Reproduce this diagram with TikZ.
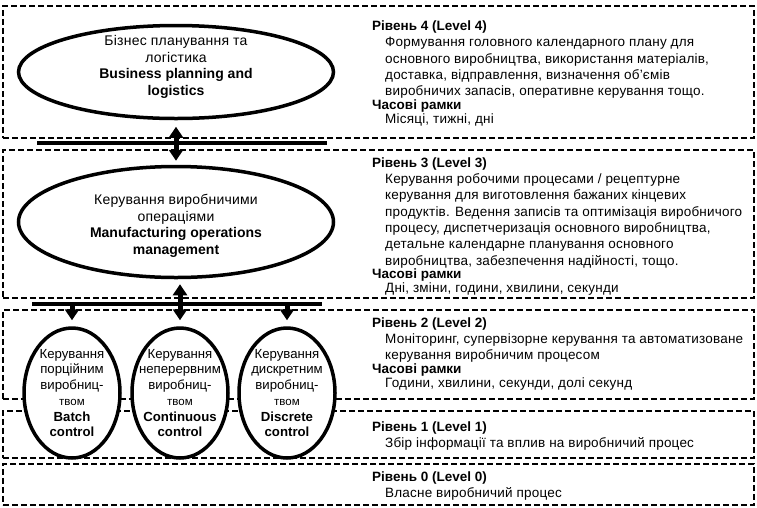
\documentclass[tikz,border=0pt]{standalone}
\usepackage{fontspec}
\setmainfont{Liberation Sans}
\newfontfamily\widefont{Liberation Sans}[LetterSpace=1.5]
\usetikzlibrary{
    shapes.geometric,
    arrows.meta,
    positioning,
    calc,
}
\newcommand{\indt}{\hspace*{13pt}}
\newcommand{\hd}[1]{{\normalfont\bfseries #1}}
\newcommand{\sm}[1]{{\fontsize{11.5}{15.7}\selectfont #1}}

\begin{document}
\begin{tikzpicture}[
    x=1pt, y=-1pt,
    level/.style={draw, line width=1.6pt, dash pattern=on 6pt off 3pt,
                anchor=north west, inner sep=0pt, minimum width=751pt},
    func/.style={draw, ellipse, line width=3.5pt, fill=white, inner sep=0pt},
    bigfunc/.style={func, minimum width=315pt, minimum height=93pt},
    smallfunc/.style={func, minimum width=96pt, minimum height=130pt},
    desc/.style={anchor=north west, align=left, inner sep=0pt,
                font=\fontsize{13.5}{16.3}\selectfont\widefont},
    inside/.style={align=center, inner sep=0pt, font=\fontsize{14}{16.5}\selectfont\widefont},
    insidesmall/.style={align=center, inner sep=0pt, font=\fontsize{13.2}{15.7}\selectfont},
    bus/.style={line width=4pt},
    link/.style={line width=5pt, {Triangle[width=14pt,length=11pt]}-{Triangle[width=14pt,length=11pt]}},
    feed/.style={line width=5pt, -{Triangle[width=14pt,length=11pt]}},
]
\useasboundingbox (0,0) rectangle (757,507);

% levels
\node[level, minimum height=132pt] (lv4) at (2,5) {};
\node[level, minimum height=148pt] (lv3) at (2,149) {};
\node[level, minimum height=89pt] (lv2) at (2,309) {};
\node[level, minimum height=47pt] (lv1) at (2,410) {};
\node[level, minimum height=41pt] (lv0) at (2,463) {};

\node[desc] (lv4txt) at (372,19) {\strut\hd{Рівень 4 (Level 4)}\\
    \indt Формування головного календарного плану для\\
    \indt основного виробництва, використання матеріалів,\\
    \indt доставка, відправлення, визначення об’ємів\\
    \indt виробничих запасів, оперативне керування тощо.\\[-2.5pt]
    \hd{Часові рамки}\\[-2.5pt]
    \indt Місяці, тижні, дні};
\node[desc] (lv3txt) at (372,155.6) {\strut\hd{Рівень 3 (Level 3)}\\
    \indt Керування робочими процесами / рецептурне\\
    \indt керування для виготовлення бажаних кінцевих\\
    \indt продуктів. Ведення записів та оптимізація виробничого\\
    \indt процесу, диспетчеризація основного виробництва,\\
    \indt детальне календарне планування основного\\
    \indt виробництва, забезпечення надійності, тощо.\\[-2.5pt]
    \hd{Часові рамки}\\[-2.5pt]
    \indt Дні, зміни, години, хвилини, секунди};
\node[desc] (lv2txt) at (372,315.6) {\strut\hd{Рівень 2 (Level 2)}\\
    \indt Моніторинг, супервізорне керування та автоматизоване\\
    \indt керування виробничим процесом\\[-2.5pt]
    \hd{Часові рамки}\\[-2.5pt]
    \indt Години, хвилини, секунди, долі секунд};
\node[desc] (lv1txt) at (372,419.6) {\strut\hd{Рівень 1 (Level 1)}\\
    \indt Збір інформації та вплив на виробничий процес};
\node[desc] (lv0txt) at (372,469.6) {\strut\hd{Рівень 0 (Level 0)}\\
    \indt Власне виробничий процес};

% buses
\coordinate (bus1w) at (37,143);
\coordinate (bus1e) at (327,143);
\coordinate (bus2w) at (32,304);
\coordinate (bus2e) at (322,304);
\draw[bus] (bus1w) -- (bus1e);
\draw[bus] (bus2w) -- (bus2e);

% functions
\node[bigfunc, label={[inside, yshift=5pt]center:{Бізнес планування та\\логістика\\
    \hd{Business planning and}\\\hd{logistics}}}] (plan) at (176,72) {};
\node[bigfunc, minimum height=111pt, label={[inside, yshift=-4pt]center:{Керування виробничими\\операціями\\
    \hd{Manufacturing operations}\\\hd{management}}}] (mom) at (176,222) {};
\node[smallfunc, label={[insidesmall]center:{Керування\\порційним\\виробниц-\\\sm{твом}\\
    \textbf{Batch}\\\textbf{control}}}] (batch) at (72,393) {};
\node[smallfunc, label={[insidesmall]center:{Керування\\неперервним\\виробниц-\\\sm{твом}\\
    \textbf{Continuous}\\\textbf{control}}}] (cont) at (180,393) {};
\node[smallfunc, label={[insidesmall]center:{Керування\\дискретним\\виробниц-\\\sm{твом}\\
    \textbf{Discrete}\\\textbf{control}}}] (disc) at (287,393) {};

% arrows
\draw[link, shorten <=6.5pt, shorten >=4pt] (plan.south) -- (mom.north);
\draw[link, shorten <=5pt, shorten >=6pt] (mom.south -| cont.north) -- (cont.north);
\draw[feed, shorten >=6pt] (bus2w -| batch.north) -- (batch.north);
\draw[feed, shorten >=6pt] (bus2w -| disc.north) -- (disc.north);

\end{tikzpicture}
\end{document}
